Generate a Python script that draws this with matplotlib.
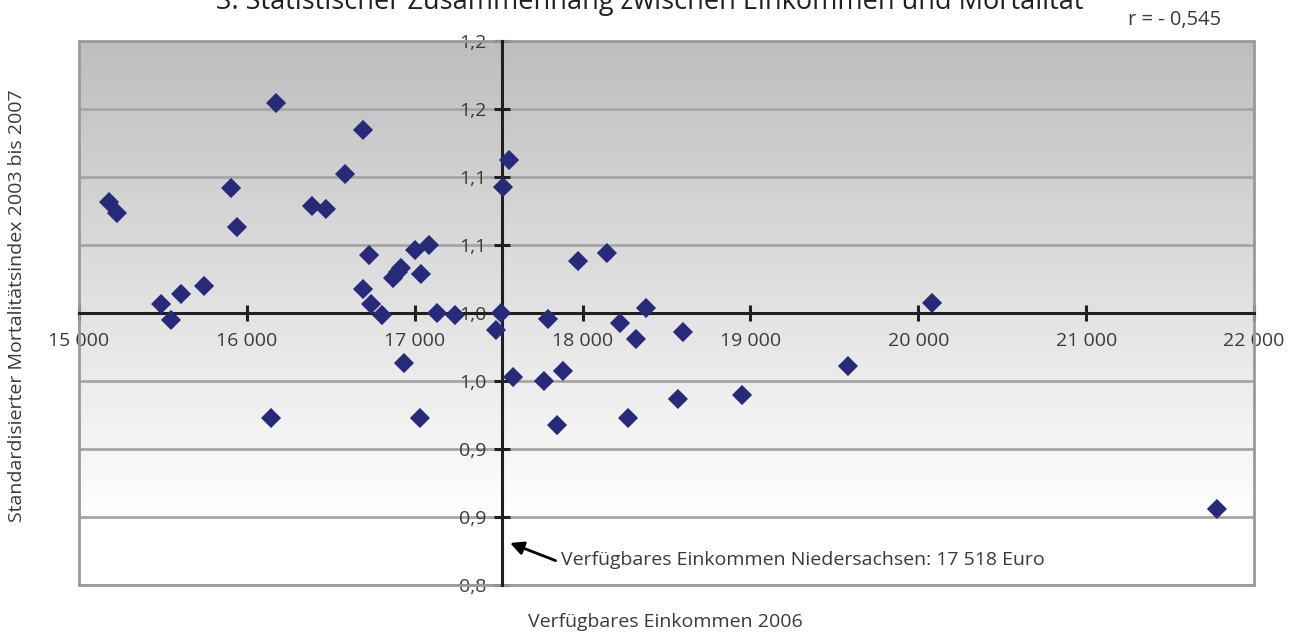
import matplotlib
matplotlib.use("Agg")
import matplotlib.pyplot as plt
import numpy as np
from matplotlib.patches import Rectangle

plt.rcParams['font.family'] = ['Open Sans', 'DejaVu Sans']

# Data: disposable income 2006 (Euro) vs standardised mortality index 2003-2007
income = [15179, 15226, 15489, 15548, 15608, 15745, 15906, 15941, 16174, 16144,
          16388, 16471, 16585, 16692, 16692, 16728, 16740, 16805, 16871, 16900,
          16918, 16936, 17002, 17037, 17031, 17085, 17133, 17240, 17484, 17514,
          17526, 17562, 17586, 17770, 17794, 17848, 17883, 17973, 18145, 18223,
          18271, 18318, 18378, 18568, 18598, 18950, 19581, 20082, 21779]
mortality = [1.0816, 1.0735, 1.0066, 0.9949, 1.0140, 1.0199, 1.0919, 1.0632, 1.1544, 0.9228,
             1.0787, 1.0765, 1.1022, 1.1346, 1.0176, 1.0426, 1.0066, 0.9985, 1.0257, 1.0301,
             1.0331, 0.9632, 1.0463, 1.0287, 0.9228, 1.0500, 1.0000, 0.9985, 0.9875, 1.0000,
             1.0926, 1.1125, 0.9529, 0.9500, 0.9956, 0.9176, 0.9574, 1.0382, 1.0441, 0.9926,
             0.9228, 0.9809, 1.0037, 0.9368, 0.9860, 0.9397, 0.9610, 1.0074, 0.8559]

x_ticks = [15000, 16000, 17000, 18000, 19000, 20000, 21000, 22000]
x_tick_labels = ['15 000', '16 000', '17 000', '18 000', '19 000', '20 000', '21 000', '22 000']
y_ticks = [0.80, 0.85, 0.90, 0.95, 1.00, 1.05, 1.10, 1.15, 1.20]
y_tick_labels = ['0,8', '0,9', '0,9', '1,0', '1,0', '1,1', '1,1', '1,2', '1,2']

niedersachsen_income = 17518
r_value = 'r = - 0,545'

W, H = 1300, 632
FS = 14
TXT = '#3a3a3a'
fig = plt.figure(figsize=(W / 100, H / 100), dpi=100)
fig.patch.set_facecolor('white')
ax = fig.add_axes([79 / W, (H - 585) / H, (1254 - 79) / W, (585 - 41) / H])
ax.set_facecolor('white')

# gradient background (gray top -> white bottom)
grad = np.linspace(1.0, 0.0, 256).reshape(-1, 1)
top_val, bot_val = 0.745, 1.0
vals = bot_val + (top_val - bot_val) * np.clip((grad - 0.12) / 0.88, 0, 1)
img = np.dstack([vals, vals, vals])
ax.imshow(img, extent=[15000, 22000, 0.80, 1.20], aspect='auto', origin='upper',
          zorder=0, interpolation='bilinear')
ax.set_xlim(15000, 22000)
ax.set_ylim(0.80, 1.20)

# grid lines
for yv in y_ticks:
    ax.axhline(yv, color='#a6a6a6', lw=2.0, zorder=1)

# frame
ax.add_patch(Rectangle((0, 0), 1, 1, transform=ax.transAxes, fill=False,
                       edgecolor='#9a9a9a', lw=2.0, zorder=2, clip_on=False))
for s in ['top', 'right']:
    ax.spines[s].set_visible(False)
ax.spines['bottom'].set_position(('data', 1.0))
ax.spines['left'].set_position(('data', niedersachsen_income))
for s in ['bottom', 'left']:
    ax.spines[s].set_color('#231f20')
    ax.spines[s].set_linewidth(2.2)
    ax.spines[s].set_zorder(3)

ax.set_xticks(x_ticks)
ax.set_xticklabels(x_tick_labels)
ax.set_yticks(y_ticks)
ax.set_yticklabels(y_tick_labels)
ax.tick_params(axis='both', direction='inout', length=12, width=2.2, color='#231f20',
               labelsize=FS, labelcolor=TXT)
ax.tick_params(axis='x', pad=8)
ax.tick_params(axis='y', pad=5)

ax.scatter(income, mortality, marker='D', s=105, color='#262a78', edgecolors='none',
           zorder=6, clip_on=False)

# annotation
ax.annotate('Verfügbares Einkommen Niedersachsen: 17 518 Euro',
            xy=(17568, 0.8309), xytext=(17871, 0.8184),
            fontsize=FS, color=TXT, va='center', ha='left',
            arrowprops=dict(arrowstyle='-|>', color='black', lw=2, mutation_scale=20,
                            shrinkA=2, shrinkB=0, relpos=(0, 0.35)), zorder=7)

fig.text(17 / W, 1 - 306 / H, 'Standardisierter Mortalitätsindex 2003 bis 2007',
         rotation=90, ha='center', va='center', fontsize=FS, color=TXT)
fig.text(665 / W, 1 - 622 / H, 'Verfügbares Einkommen 2006', ha='center', va='center',
         fontsize=FS, color=TXT)
fig.text(1175 / W, 1 - 20 / H, r_value, ha='center', va='center', fontsize=14.5,
         color=TXT)
fig.text(650 / W, 1 - 9 / H, '3. Statistischer Zusammenhang zwischen Einkommen und Mortalität',
         ha='center', va='baseline', fontsize=19.5, color='#231f20')

fig.savefig('out.png', dpi=100)
